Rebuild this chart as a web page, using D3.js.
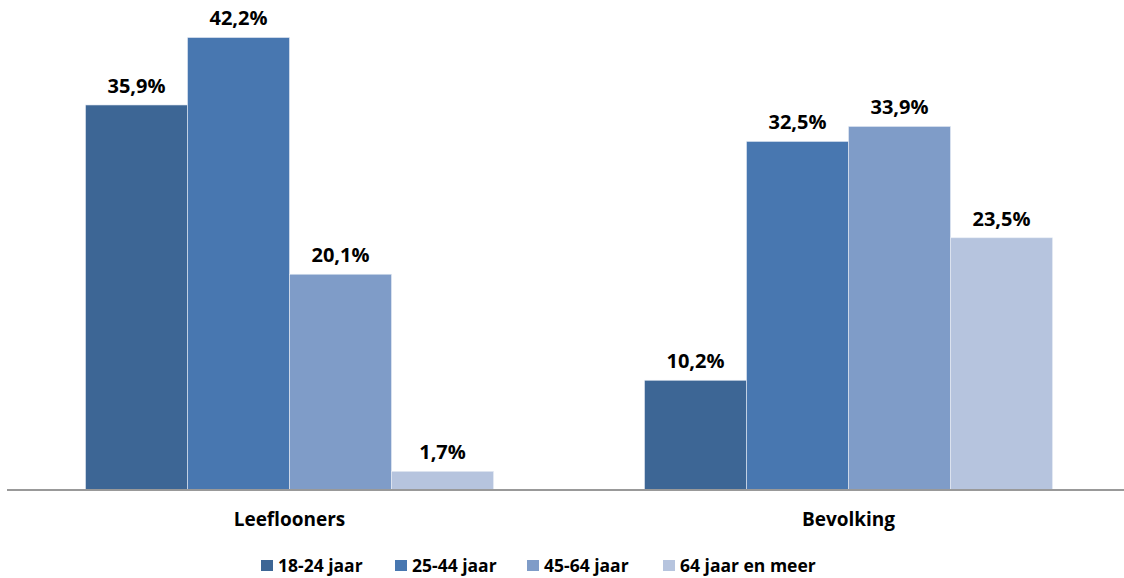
<!DOCTYPE html>
<html><head><meta charset="utf-8">
<script src="https://cdn.jsdelivr.net/npm/d3@7"></script>
<style>body{margin:0;background:#fff}svg{display:block}text{font-family:"Open Sans",sans-serif;font-weight:bold;fill:#000}</style>
</head><body>
<script>
const categories = ["Leeflooners", "Bevolking"];
const seriesNames = ["18-24 jaar", "25-44 jaar", "45-64 jaar", "64 jaar en meer"];
const leeflooners = [35.9, 42.2, 20.1, 1.7];
const bevolking = [10.2, 32.5, 33.9, 23.5];
const colors = ["#3d6695", "#4877b0", "#7f9cc8", "#b6c4de"];
const values = [leeflooners, bevolking];

const W = 1124, H = 578;
const svg = d3.select("body").append("svg").attr("width", W).attr("height", H);

const x0 = d3.scaleBand().domain(categories).range([10, 1128]);
const x1 = d3.scaleBand().domain(seriesNames).range([0, x0.bandwidth()]).paddingOuter(0.74);
const y = d3.scaleLinear().domain([0, 45]).range([489.5, 7.5]);

const fmt = v => d3.format(".1f")(v).replace(".", ",") + "%";

categories.forEach((c, ci) => {
  const g = svg.append("g").attr("transform", `translate(${x0(c)},0)`);
  g.selectAll("rect").data(values[ci]).join("rect")
    .attr("x", (d, i) => x1(seriesNames[i]))
    .attr("y", d => y(d))
    .attr("width", x1.bandwidth())
    .attr("height", d => y(0) - y(d))
    .attr("fill", (d, i) => colors[i])
    .attr("stroke", "#e8edf5").attr("stroke-width", 0.6);
  g.selectAll("text.v").data(values[ci]).join("text").attr("class", "v")
    .attr("x", (d, i) => x1(seriesNames[i]) + x1.bandwidth() / 2)
    .attr("y", d => y(d) - 12)
    .attr("text-anchor", "middle")
    .attr("font-size", 20)
    .text(d => fmt(d));
});

// axis line
svg.append("line").attr("x1", 7).attr("x2", 1124).attr("y1", y(0) + 0.5).attr("y2", y(0) + 0.5)
  .attr("stroke", "#999").attr("stroke-width", 2);

// category labels
const xAxis = d3.axisBottom(x0).tickSize(0).tickPadding(0);
const ax = svg.append("g").attr("transform", `translate(0,${y(0)})`).call(xAxis);
ax.select(".domain").remove();
ax.selectAll("text").attr("y", 36).attr("dy", null).attr("font-size", 19)
  .style("font-family", "'Open Sans',sans-serif").style("font-weight", "bold").attr("fill", "#000");

// legend
const legX = [261, 395, 527, 663];
const leg = svg.append("g");
seriesNames.forEach((s, i) => {
  leg.append("rect").attr("x", legX[i]).attr("y", 560).attr("width", 12).attr("height", 11).attr("fill", colors[i]);
  leg.append("text").attr("x", legX[i] + 17).attr("y", 572).attr("font-size", 17.5).text(s);
});
</script>
</body></html>
